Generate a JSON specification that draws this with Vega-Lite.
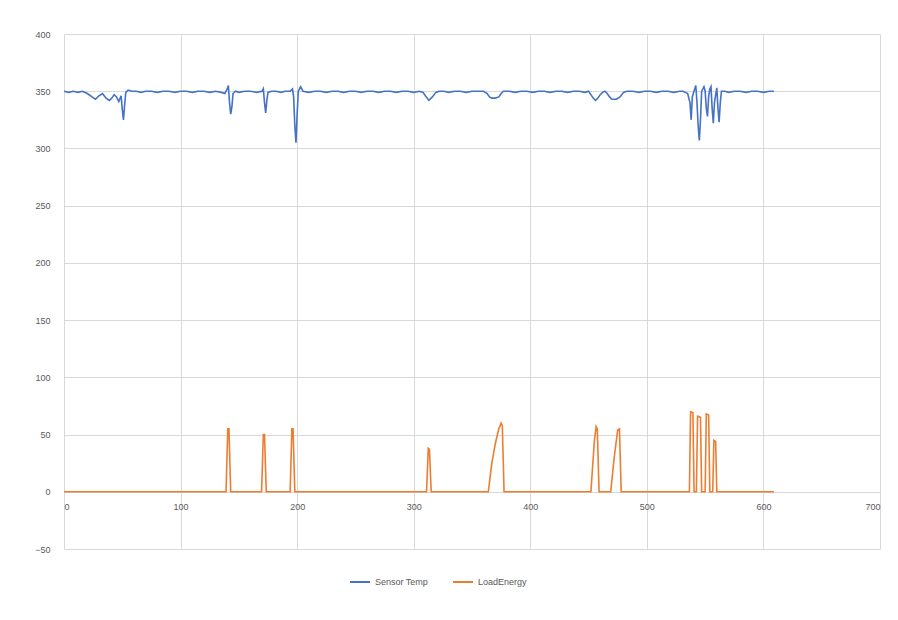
{
  "$schema": "https://vega.github.io/schema/vega-lite/v6.json",
  "width": 816,
  "height": 515,
  "autosize": {"type": "none"},
  "padding": {"left": 64, "top": 34, "right": 18, "bottom": 71},
  "background": "white",
  "config": {"view": {"stroke": null}, "font": "Liberation Sans"},
  "datasets": {
    "temp": [
      {"x":0,"v":350},{"x":4,"v":349},{"x":8,"v":350},{"x":12,"v":349},{"x":16,"v":350},{"x":20,"v":348},{"x":24,"v":345},{"x":27,"v":343},{"x":30,"v":346},{"x":33,"v":348},{"x":36,"v":344},{"x":39,"v":342},{"x":41,"v":344},{"x":43,"v":347},{"x":45,"v":345},{"x":47,"v":341},{"x":49,"v":346},{"x":50,"v":334},{"x":51,"v":325},{"x":52,"v":338},{"x":53,"v":349},{"x":55,"v":351},{"x":58,"v":350},{"x":62,"v":350},{"x":66,"v":349},{"x":70,"v":350},{"x":75,"v":350},{"x":80,"v":349},{"x":85,"v":350},{"x":90,"v":350},{"x":95,"v":349},{"x":100,"v":350},{"x":105,"v":350},{"x":110,"v":349},{"x":115,"v":350},{"x":120,"v":350},{"x":125,"v":349},{"x":130,"v":350},{"x":135,"v":349},{"x":138,"v":348},{"x":140,"v":352},{"x":141,"v":355},{"x":142,"v":340},{"x":143,"v":330},{"x":144,"v":336},{"x":145,"v":348},{"x":147,"v":350},{"x":150,"v":349},{"x":155,"v":350},{"x":160,"v":350},{"x":165,"v":349},{"x":170,"v":350},{"x":171,"v":352},{"x":172,"v":340},{"x":173,"v":331},{"x":174,"v":342},{"x":175,"v":349},{"x":178,"v":350},{"x":182,"v":350},{"x":186,"v":349},{"x":190,"v":350},{"x":194,"v":350},{"x":196,"v":352},{"x":197,"v":345},{"x":198,"v":320},{"x":199,"v":305},{"x":200,"v":330},{"x":201,"v":350},{"x":203,"v":354},{"x":205,"v":350},{"x":210,"v":349},{"x":215,"v":350},{"x":220,"v":350},{"x":225,"v":349},{"x":230,"v":350},{"x":235,"v":350},{"x":240,"v":349},{"x":245,"v":350},{"x":250,"v":350},{"x":255,"v":349},{"x":260,"v":350},{"x":265,"v":350},{"x":270,"v":349},{"x":275,"v":350},{"x":280,"v":350},{"x":285,"v":349},{"x":290,"v":350},{"x":295,"v":350},{"x":300,"v":349},{"x":305,"v":350},{"x":308,"v":349},{"x":310,"v":346},{"x":313,"v":342},{"x":316,"v":345},{"x":319,"v":349},{"x":322,"v":350},{"x":326,"v":350},{"x":330,"v":349},{"x":335,"v":350},{"x":340,"v":350},{"x":345,"v":349},{"x":350,"v":350},{"x":355,"v":350},{"x":360,"v":350},{"x":363,"v":348},{"x":365,"v":345},{"x":367,"v":344},{"x":370,"v":344},{"x":373,"v":345},{"x":375,"v":348},{"x":377,"v":350},{"x":382,"v":350},{"x":387,"v":349},{"x":392,"v":350},{"x":397,"v":350},{"x":402,"v":349},{"x":407,"v":350},{"x":412,"v":350},{"x":417,"v":349},{"x":422,"v":350},{"x":427,"v":350},{"x":432,"v":349},{"x":437,"v":350},{"x":442,"v":350},{"x":447,"v":349},{"x":450,"v":350},{"x":452,"v":347},{"x":454,"v":344},{"x":456,"v":342},{"x":458,"v":344},{"x":460,"v":347},{"x":462,"v":349},{"x":464,"v":350},{"x":466,"v":348},{"x":468,"v":345},{"x":470,"v":343},{"x":474,"v":343},{"x":477,"v":345},{"x":480,"v":349},{"x":483,"v":350},{"x":488,"v":350},{"x":493,"v":349},{"x":498,"v":350},{"x":503,"v":350},{"x":508,"v":349},{"x":513,"v":350},{"x":518,"v":350},{"x":523,"v":349},{"x":528,"v":350},{"x":531,"v":350},{"x":533,"v":349},{"x":535,"v":348},{"x":537,"v":340},{"x":538,"v":325},{"x":539,"v":345},{"x":541,"v":352},{"x":542,"v":355},{"x":543,"v":340},{"x":544,"v":320},{"x":545,"v":307},{"x":546,"v":325},{"x":547,"v":350},{"x":549,"v":354},{"x":550,"v":350},{"x":551,"v":335},{"x":552,"v":328},{"x":553,"v":345},{"x":554,"v":352},{"x":555,"v":354},{"x":556,"v":335},{"x":557,"v":322},{"x":558,"v":340},{"x":560,"v":353},{"x":561,"v":335},{"x":562,"v":323},{"x":563,"v":340},{"x":564,"v":350},{"x":567,"v":350},{"x":570,"v":349},{"x":575,"v":350},{"x":580,"v":350},{"x":585,"v":349},{"x":590,"v":350},{"x":595,"v":350},{"x":600,"v":349},{"x":605,"v":350},{"x":609,"v":350}
    ],
    "load": [
      {"x":0,"v":0},{"x":139,"v":0},{"x":140.5,"v":55},{"x":141.5,"v":55},{"x":143,"v":0},{"x":169.5,"v":0},{"x":171,"v":50},{"x":172,"v":50},{"x":173.5,"v":0},{"x":194,"v":0},{"x":195.5,"v":55},{"x":196.5,"v":55},{"x":198,"v":0},{"x":311,"v":0},{"x":312.5,"v":38},{"x":313.5,"v":37},{"x":315,"v":0},{"x":364,"v":0},{"x":367,"v":25},{"x":370,"v":42},{"x":373,"v":55},{"x":375,"v":60},{"x":376,"v":58},{"x":377.5,"v":0},{"x":452,"v":0},{"x":455,"v":45},{"x":456.5,"v":57},{"x":457.5,"v":55},{"x":459,"v":0},{"x":469,"v":0},{"x":472,"v":30},{"x":475,"v":54},{"x":476.5,"v":55},{"x":478,"v":0},{"x":536.5,"v":0},{"x":537.5,"v":70},{"x":539.5,"v":69},{"x":540.5,"v":0},{"x":542.5,"v":0},{"x":543.5,"v":66},{"x":546,"v":65},{"x":547,"v":0},{"x":550,"v":0},{"x":551,"v":68},{"x":553,"v":67},{"x":554,"v":0},{"x":556.5,"v":0},{"x":557.5,"v":45},{"x":559,"v":44},{"x":560,"v":0},{"x":609,"v":0}
    ]
  },
  "layer": [
    {
      "data": {"name": "temp"},
      "transform": [{"calculate": "'Sensor Temp'", "as": "s"}],
      "mark": {"type": "line", "strokeWidth": 1.6, "interpolate": "linear"},
      "encoding": {
        "x": {"field": "x", "type": "quantitative", "scale": {"domain": [0, 700], "nice": false}, "axis": {"values": [0,100,200,300,400,500,600,700], "offset": -57, "domainColor": "#d9d9d9", "tickColor": "#d9d9d9", "tickSize": 4, "labelColor": "#595959", "labelFontSize": 9, "gridColor": "#d9d9d9", "title": null, "labelPadding": 6}},
        "y": {"field": "v", "type": "quantitative", "scale": {"domain": [-50, 400], "nice": false, "zero": false}, "axis": {"values": [-50,0,50,100,150,200,250,300,350,400], "domain": false, "ticks": false, "labelColor": "#595959", "labelFontSize": 9, "gridColor": "#d9d9d9", "title": null, "labelPadding": 14}},
        "color": {"field": "s", "type": "nominal", "scale": {"domain": ["Sensor Temp", "LoadEnergy"], "range": ["#4472C4", "#ED7D31"]}, "legend": {"orient": "none", "legendX": 285, "legendY": 537, "direction": "horizontal", "title": null, "symbolType": "stroke", "symbolStrokeWidth": 2, "symbolSize": 400, "labelFontSize": 9, "labelColor": "#595959", "columnPadding": 20}}
      }
    },
    {
      "data": {"name": "load"},
      "transform": [{"calculate": "'LoadEnergy'", "as": "s"}],
      "mark": {"type": "line", "strokeWidth": 1.6, "interpolate": "linear"},
      "encoding": {
        "x": {"field": "x", "type": "quantitative"},
        "y": {"field": "v", "type": "quantitative"},
        "color": {"field": "s", "type": "nominal"}
      }
    }
  ]
}
